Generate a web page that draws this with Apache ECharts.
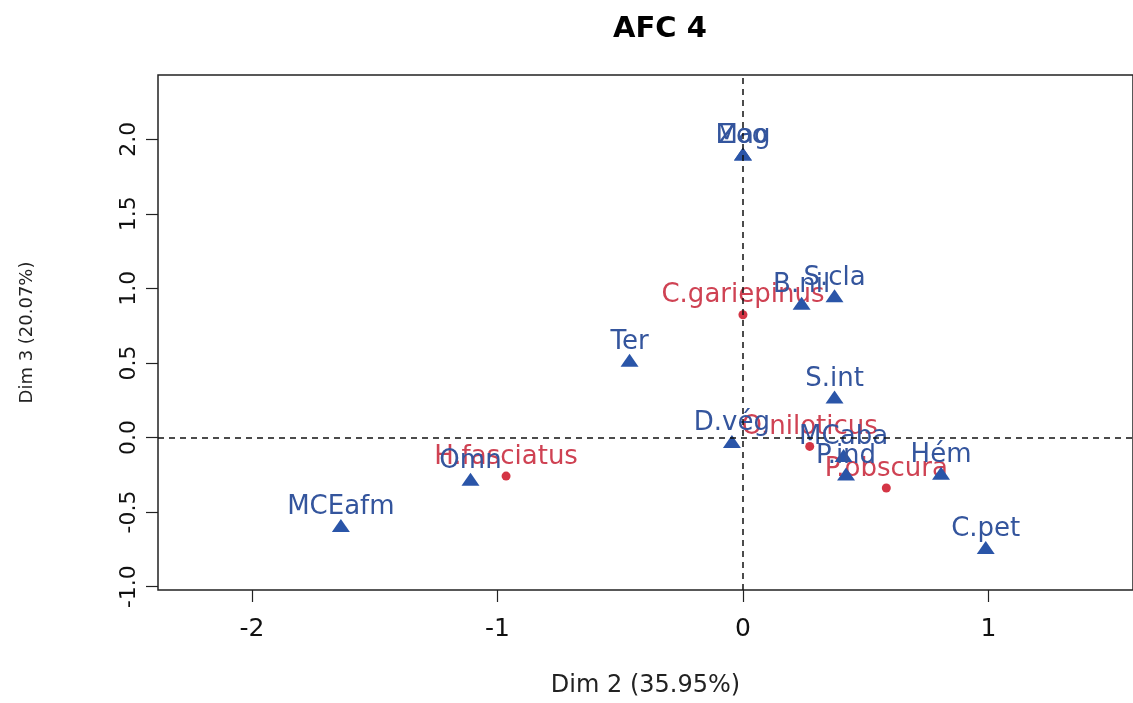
<!DOCTYPE html>
<html>
<head>
<meta charset="utf-8">
<script src="https://cdn.jsdelivr.net/npm/echarts@6/dist/echarts.min.js"></script>
<style>html,body{margin:0;padding:0;background:#fff;}#c{width:1133px;height:703px;}</style>
</head>
<body>
<div id="c"></div>
<script>
// Column (variable) points: blue triangles
const varNames = ['Zoo', 'Mag', 'B.nil', 'S.cla', 'Ter', 'S.int', 'D.vég', 'MCaba', 'P.ind', 'Hém', 'C.pet', 'Omn', 'MCEafm'];
const varX = [0.00, 0.00, 0.239, 0.373, -0.462, 0.373, -0.045, 0.41, 0.42, 0.807, 0.989, -1.11, -1.638];
const varY = [1.90, 1.90, 0.90, 0.95, 0.518, 0.272, -0.027, -0.12, -0.245, -0.24, -0.737, -0.28, -0.59];
// Row (species) points: red circles
const spNames = ['C.gariepinus', 'O.niloticus', 'P.obscura', 'H.fasciatus'];
const spX = [0.00, 0.272, 0.584, -0.965];
const spY = [0.823, -0.06, -0.339, -0.259];
// Axis ticks
const xTicks = [-2, -1, 0, 1];
const yTicks = [-1.0, -0.5, 0.0, 0.5, 1.0, 1.5, 2.0];

const blue = '#2a55a8';
const blueText = '#34559d';
const red = '#d43545';
const redText = '#cf4253';
const font = 'DejaVu Sans';

const chart = echarts.init(document.getElementById('c'));
chart.setOption({
  backgroundColor: '#fff',
  animation: false,
  title: {
    text: 'AFC 4', left: 655, top: 10, textAlign: 'center',
    textStyle: {fontFamily: font, fontWeight: 'bold', fontSize: 29, color: '#000'}
  },
  grid: {left: 158, top: 75, right: -5, bottom: 108, show: true, borderColor: '#222', borderWidth: 1.5, backgroundColor: 'transparent'},
  xAxis: {
    type: 'value', min: -2.383, max: 1.589,
    name: 'Dim 2 (35.95%)', nameLocation: 'middle', nameGap: 84,
    nameTextStyle: {fontFamily: font, fontSize: 24, color: '#222'},
    axisLine: {show: false, onZero: false},
    axisTick: {show: true, inside: false, length: 12, lineStyle: {color: '#222', width: 1.2}, customValues: xTicks},
    axisLabel: {fontFamily: font, fontSize: 25, color: '#111', margin: 27, customValues: xTicks, formatter: v => String(v)},
    splitLine: {show: false}
  },
  yAxis: {
    type: 'value', min: -1.0226, max: 2.4303,
    name: 'Dim 3 (20.07%)', nameLocation: 'middle', nameGap: 122, nameRotate: 90,
    nameTextStyle: {fontFamily: font, fontSize: 18, color: '#222'},
    axisLine: {show: false, onZero: false},
    axisTick: {show: true, inside: false, length: 12, lineStyle: {color: '#222', width: 1.2}, customValues: yTicks},
    axisLabel: {fontFamily: font, fontSize: 22, color: '#111', margin: 18, rotate: 90, customValues: yTicks, formatter: v => v.toFixed(1)},
    splitLine: {show: false}
  },
  series: [
    {
      type: 'scatter', symbol: 'triangle', symbolSize: [18, 13],
      itemStyle: {color: blue, opacity: 1},
      data: varNames.map((n, i) => ({name: n, value: [varX[i], varY[i]]})),
      label: {show: true, position: 'inside', offset: [0, -18], formatter: p => p.name,
        fontFamily: font, fontSize: 26, color: blueText, opacity: 1},
      markLine: {
        silent: true, symbol: 'none', animation: false,
        label: {show: false},
        lineStyle: {type: [6, 5], color: '#111', width: 1.5},
        data: [{xAxis: 0}, {yAxis: 0}]
      },
      z: 3
    },
    {
      type: 'scatter', symbol: 'circle', symbolSize: 9,
      itemStyle: {color: red, opacity: 1},
      data: spNames.map((n, i) => ({name: n, value: [spX[i], spY[i]]})),
      label: {show: true, position: 'inside', offset: [0, -19], formatter: p => p.name,
        fontFamily: font, fontSize: 26, color: redText, opacity: 1},
      z: 2
    }
  ]
});
</script>
</body>
</html>
